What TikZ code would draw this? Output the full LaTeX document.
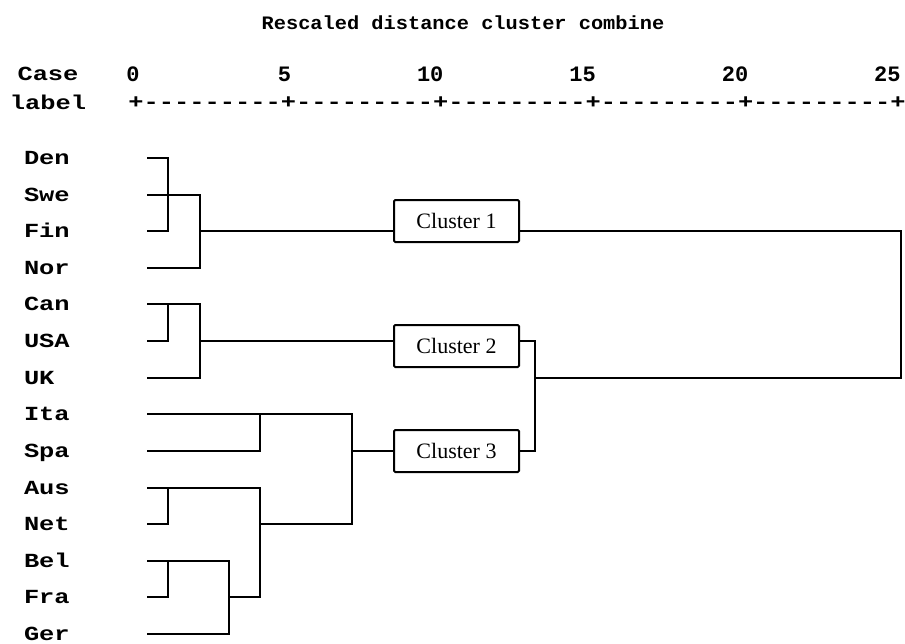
\documentclass[tikz,border=0pt]{standalone}
\usepackage{fontspec}
\newfontfamily\lblfont[FakeStretch=1.27]{Liberation Mono}
\newfontfamily\ttlfont[FakeStretch=1.07]{Liberation Mono}
\newfontfamily\numfont{Liberation Mono}
\newfontfamily\serfont{Liberation Serif}
\newcommand\dsh{\hbox{-}}
\newcommand\segm{+\dsh\dsh\dsh\dsh\dsh\dsh\dsh\dsh\dsh}
\begin{document}
\begin{tikzpicture}[x=1pt,y=-1pt,line width=2pt,
  lbl/.style={anchor=base west,inner sep=0pt,font=\lblfont\bfseries\fontsize{20}{20}\selectfont},
  hdr/.style={anchor=base,inner sep=0pt,font=\lblfont\bfseries\fontsize{20}{20}\selectfont},
  num/.style={anchor=base east,inner sep=0pt,font=\numfont\bfseries\fontsize{22}{22}\selectfont},
  ttl/.style={anchor=base,inner sep=0pt,font=\ttlfont\bfseries\fontsize{19}{19}\selectfont},
  axisline/.style={anchor=base west,inner sep=0pt,font=\lblfont\bfseries\fontsize{20}{20}\selectfont},
  cbox/.style={draw,line width=2pt,rounded corners=1.2pt,minimum width=125pt,minimum height=42pt,inner sep=0pt,font=\serfont\fontsize{22}{22}\selectfont}]
\path[use as bounding box] (0,0) rectangle (905,643);
% header
\node[ttl] (title) at (463,29.5) {Rescaled distance cluster combine};
\node[hdr] (case) at (48,80.6) {Case};
\node[hdr] (label) at (48,109) {label};
\node[num] (n0) at (140.6,81.3) {0};
\node[num] (n5) at (292,81.3) {5};
\node[num] (n10) at (444.4,81.3) {10};
\node[num] (n15) at (596.8,81.3) {15};
\node[num] (n20) at (749.2,81.3) {20};
\node[num] (n25) at (901.6,81.3) {25};
\node[axisline] (axis) at (127.4,108) {\segm\segm\segm\segm\segm+};
% case labels and leaf coordinates
\foreach \n/\y in {Den/158,Swe/195,Fin/231,Nor/268,Can/304,USA/341,UK/378,Ita/414,Spa/451,Aus/488,Net/524,Bel/561,Fra/597,Ger/634}{
  \node[lbl] (l\n) at (23,\y+6.4) {\n};
  \coordinate (\n) at (147,\y);
}
% cluster boxes
\node[cbox] (c1) at (456.5,221) {Cluster 1};
\node[cbox] (c2) at (456.5,346) {Cluster 2};
\node[cbox] (c3) at (456.5,451) {Cluster 3};
% join points
\coordinate (jA) at (200,231);
\coordinate (jB) at (200,341);
\coordinate (jC) at (352,451);
% cluster 1
\draw (Den) -- ++(21,0) |- (Fin);
\draw (Swe) -- ++(53,0) |- (Nor);
\draw (jA) -- (jA -| c1.west);
% cluster 2
\draw (Can) -- ++(53,0) |- (UK);
\draw ([xshift=21pt]Can) |- (USA);
\draw (jB) -- (jB -| c2.west);
% cluster 3
\draw (Ita) -- ++(205,0) |- ([xshift=113pt]Net);
\draw ([xshift=113pt]Ita) |- (Spa);
\draw (Aus) -- ++(113,0) |- ([xshift=82pt]Fra);
\draw ([xshift=21pt]Aus) |- (Net);
\draw (Bel) -- ++(82,0) |- (Ger);
\draw ([xshift=21pt]Bel) |- (Fra);
\draw (jC) -- (jC -| c3.west);
% upper joins
\draw (c2.east |- jB) -- ++(15,0) |- (c3.east |- jC);
\draw (c1.east |- jA) -- ++(381,0) |- (534,378);
\end{tikzpicture}
\end{document}
